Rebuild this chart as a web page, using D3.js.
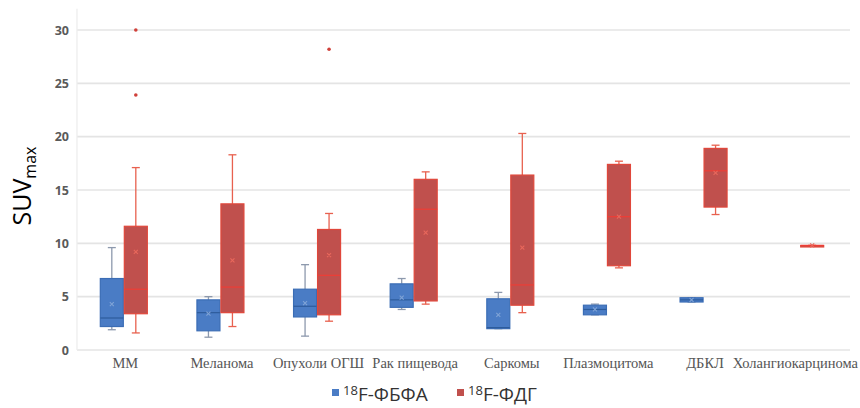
<!DOCTYPE html>
<html>
<head>
<meta charset="utf-8">
<script src="https://cdn.jsdelivr.net/npm/d3@7"></script>
<style>
  html, body { margin: 0; padding: 0; background: #ffffff; }
  svg { display: block; }
</style>
</head>
<body>
<svg id="chart" width="860" height="408"></svg>
<script>
// ---- data ----
const categories = ["ММ", "Меланома", "Опухоли ОГШ", "Рак пищевода", "Саркомы", "Плазмоцитома", "ДБКЛ", "Холангиокарцинома"];
const yTicks = [0, 5, 10, 15, 20, 25, 30];
const seriesNames = ["ФБФА", "ФДГ"];

// 18F-ФБФА (blue)
const fbfaMin    = [1.9, 1.2, 1.3, 3.8, 2.0, 3.3, 4.5, null];
const fbfaQ1     = [2.2, 1.8, 3.1, 4.0, 2.0, 3.3, 4.5, null];
const fbfaMedian = [3.0, 3.5, 4.1, 4.7, 2.1, 3.8, 4.7, null];
const fbfaQ3     = [6.7, 4.7, 5.7, 6.2, 4.8, 4.2, 4.9, null];
const fbfaMax    = [9.6, 5.0, 8.0, 6.7, 5.4, 4.3, 4.9, null];
const fbfaMean   = [4.3, 3.4, 4.4, 4.9, 3.3, 3.8, 4.7, null];
const fbfaOutliers = [[], [], [], [], [], [], [], []];

// 18F-ФДГ (red)
const fdgMin    = [1.6, 2.2, 2.7, 4.3, 3.5, 7.7, 12.7, 9.8];
const fdgQ1     = [3.4, 3.5, 3.3, 4.6, 4.2, 7.9, 13.4, 9.8];
const fdgMedian = [5.7, 5.9, 7.0, 13.2, 6.1, 12.5, 16.8, 9.8];
const fdgQ3     = [11.6, 13.7, 11.3, 16.0, 16.4, 17.4, 18.9, 9.8];
const fdgMax    = [17.1, 18.3, 12.8, 16.7, 20.3, 17.7, 19.2, 9.8];
const fdgMean   = [9.2, 8.4, 8.9, 11.0, 9.6, 12.5, 16.6, 9.8];
const fdgOutliers = [[30.0, 23.9], [], [28.2], [], [], [], [], []];

// ---- build series table ----
function buildSeries(mins, q1s, meds, q3s, maxs, means, outs) {
  return categories.map((c, i) => ({
    cat: c, min: mins[i], q1: q1s[i], med: meds[i], q3: q3s[i], max: maxs[i], mean: means[i], out: outs[i]
  })).filter(d => d.min !== null);
}
const series = [
  { key: "fbfa", label: "ФБФА", offset: -25, fill: "#4a7cc5", stroke: "#3b6db5", whisker: "#8d99ad", median: "#2d5c9c", mean: "#7fa3d6",
    data: buildSeries(fbfaMin, fbfaQ1, fbfaMedian, fbfaQ3, fbfaMax, fbfaMean, fbfaOutliers) },
  { key: "fdg", label: "ФДГ", offset: -1, fill: "#c0504d", stroke: "#e0473b", whisker: "#e8614f", median: "#ee3e36", mean: "#e8685c",
    data: buildSeries(fdgMin, fdgQ1, fdgMedian, fdgQ3, fdgMax, fdgMean, fdgOutliers) }
];

// ---- layout ----
const svg = d3.select("#chart");
const plotLeft = 77, plotRight = 850, plotBottom = 350, plotTop = 30;
const boxW = 23;

const x = d3.scaleBand().domain(categories).range([plotLeft, plotRight]).padding(0);
const y = d3.scaleLinear().domain([0, 30]).range([plotBottom, plotTop]);

// gridlines
svg.append("g").selectAll("line").data(yTicks).join("line")
  .attr("x1", plotLeft).attr("x2", plotRight)
  .attr("y1", d => y(d)).attr("y2", d => y(d))
  .attr("stroke", "#e4e4e4").attr("stroke-width", 1.6);

// vertical axis line (faint)
svg.append("line")
  .attr("x1", plotLeft).attr("x2", plotLeft)
  .attr("y1", y(32)).attr("y2", y(0))
  .attr("stroke", "#ececec").attr("stroke-width", 1.2);

// y axis tick labels
const yAxis = d3.axisLeft(y).tickValues(yTicks).tickSize(0).tickPadding(8).tickFormat(d3.format("d"));
const gy = svg.append("g").attr("transform", `translate(${plotLeft},0)`).call(yAxis);
gy.select(".domain").remove();
gy.selectAll("text")
  .attr("font-family", "'Open Sans', 'Liberation Sans', sans-serif")
  .attr("font-size", 12.5).attr("font-weight", "bold").attr("fill", "#5a5a5a");

// x axis labels
const xAxis = d3.axisBottom(x).tickSize(0).tickPadding(8);
const gx = svg.append("g").attr("transform", `translate(0,${plotBottom})`).call(xAxis);
gx.select(".domain").remove();
gx.selectAll("text")
  .attr("font-family", "'Liberation Serif', 'DejaVu Serif', serif")
  .attr("font-size", 14.5).attr("fill", "#555555");
// keep labels inside the picture
gx.selectAll(".tick").each(function(d) {
  const t = d3.select(this).select("text");
  const w = t.node().getComputedTextLength();
  const cx = x(d) + x.bandwidth() / 2;
  const overflow = cx + w / 2 - 858;
  if (overflow > 0) t.attr("dx", -overflow);
});

// boxes
series.forEach(s => {
  const g = svg.append("g").attr("class", s.key);
  const cx = d => x(d.cat) + x.bandwidth() / 2 + s.offset + boxW / 2;
  const left = d => x(d.cat) + x.bandwidth() / 2 + s.offset;

  const grp = g.selectAll("g.box").data(s.data).join("g").attr("class", "box");

  // whiskers
  grp.append("line")
    .attr("x1", cx).attr("x2", cx)
    .attr("y1", d => y(d.max)).attr("y2", d => y(d.q3))
    .attr("stroke", s.whisker).attr("stroke-width", 1.3);
  grp.append("line")
    .attr("x1", cx).attr("x2", cx)
    .attr("y1", d => y(d.q1)).attr("y2", d => y(d.min))
    .attr("stroke", s.whisker).attr("stroke-width", 1.3);
  // whisker caps
  grp.append("line")
    .attr("x1", d => cx(d) - 4).attr("x2", d => cx(d) + 4)
    .attr("y1", d => y(d.max)).attr("y2", d => y(d.max))
    .attr("stroke", s.whisker).attr("stroke-width", 1.3);
  grp.append("line")
    .attr("x1", d => cx(d) - 4).attr("x2", d => cx(d) + 4)
    .attr("y1", d => y(d.min)).attr("y2", d => y(d.min))
    .attr("stroke", s.whisker).attr("stroke-width", 1.3);

  // box
  grp.append("rect")
    .attr("x", left).attr("width", boxW)
    .attr("y", d => y(d.q3))
    .attr("height", d => Math.max(1.5, y(d.q1) - y(d.q3)))
    .attr("fill", s.fill).attr("stroke", s.stroke).attr("stroke-width", 1.2);

  // median
  grp.append("line")
    .attr("x1", left).attr("x2", d => left(d) + boxW)
    .attr("y1", d => y(d.med)).attr("y2", d => y(d.med))
    .attr("stroke", s.median).attr("stroke-width", 1.2);

  // mean marker (small x)
  grp.append("path")
    .attr("d", d => {
      const mx = cx(d), my = y(d.mean), r = 2;
      return `M${mx - r},${my - r}L${mx + r},${my + r}M${mx - r},${my + r}L${mx + r},${my - r}`;
    })
    .attr("stroke", s.mean).attr("stroke-width", 1.1).attr("fill", "none");

  // outliers
  grp.selectAll("circle.out").data(d => d.out.map(v => ({ v, d }))).join("circle")
    .attr("class", "out")
    .attr("cx", o => cx(o.d)).attr("cy", o => y(o.v)).attr("r", 1.8)
    .attr("fill", "#d0403a");
});

// y axis title: SUVmax
const yt = svg.append("text")
  .attr("transform", `translate(31,186) rotate(-90)`)
  .attr("text-anchor", "middle")
  .attr("font-family", "'Open Sans', 'Noto Sans', sans-serif")
  .attr("fill", "#000000");
yt.append("tspan").attr("font-size", 25).text("SUV");
yt.append("tspan").attr("font-size", 16).attr("dy", 5).text("max");

// legend
const legend = [
  { name: "ФБФА", color: "#4a7cc5", x: 332 },
  { name: "ФДГ", color: "#c0504d", x: 457 }
];
const lg = svg.append("g").selectAll("g").data(legend).join("g")
  .attr("transform", d => `translate(${d.x},0)`);
lg.append("rect").attr("x", 0).attr("y", 389).attr("width", 7).attr("height", 7).attr("fill", d => d.color);
const lt = lg.append("text").attr("x", 11).attr("y", 401)
  .attr("font-family", "'Open Sans', 'Noto Sans', sans-serif").attr("fill", "#333333");
lt.append("tspan").attr("font-size", 13).attr("dy", -6).text("18");
lt.append("tspan").attr("font-size", 19).attr("dy", 6).text(d => "F-" + d.name);
</script>
</body>
</html>
